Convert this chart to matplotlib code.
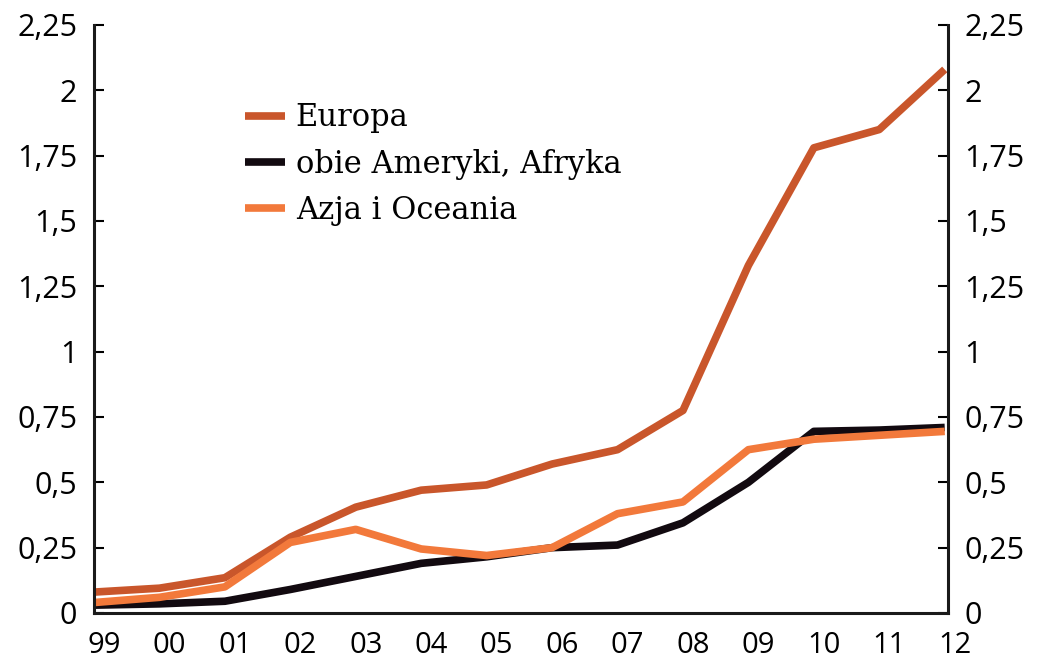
import matplotlib
matplotlib.use('Agg')
import matplotlib.pyplot as plt
import matplotlib.transforms as mtransforms

years = ['99', '00', '01', '02', '03', '04', '05', '06', '07', '08', '09', '10', '11', '12']
europa = [0.08, 0.095, 0.135, 0.29, 0.405, 0.47, 0.49, 0.57, 0.625, 0.775, 1.33, 1.78, 1.85, 2.08]
ameryki = [0.03, 0.035, 0.045, 0.09, 0.14, 0.19, 0.215, 0.25, 0.26, 0.345, 0.5, 0.695, 0.70, 0.71]
azja = [0.04, 0.06, 0.10, 0.27, 0.32, 0.245, 0.22, 0.25, 0.38, 0.425, 0.625, 0.665, 0.68, 0.695]
yticks = [0, 0.25, 0.5, 0.75, 1, 1.25, 1.5, 1.75, 2, 2.25]
ylabels = ['0', '0,25', '0,5', '0,75', '1', '1,25', '1,5', '1,75', '2', '2,25']

fig = plt.figure(figsize=(10.37, 6.64), dpi=100)
ax = fig.add_axes([94 / 1037, 51 / 664, 854 / 1037, 588 / 664])

x = range(len(years))
ax.plot(x, europa, color='#c9562b', lw=5.5, label='Europa', solid_capstyle='butt')
ax.plot(x, ameryki, color='#120a10', lw=5.5, label='obie Ameryki, Afryka', solid_capstyle='butt')
ax.plot(x, azja, color='#f2793b', lw=5.5, label='Azja i Oceania', solid_capstyle='butt')

ax.set_xlim(0, 13.05)
ax.set_ylim(0, 2.25)
ax.set_yticks(yticks)
ax.set_yticklabels(ylabels)
ax.set_xticks(list(x))
ax.set_xticklabels(years)

ax.spines['top'].set_visible(False)
for s in ['left', 'right', 'bottom']:
    ax.spines[s].set_linewidth(2.2)
    ax.spines[s].set_color('#1a1a1a')

ax.tick_params(axis='y', direction='in', length=7, width=1.5, labelsize=22,
               left=True, right=True, labelleft=True, labelright=True, pad=12)
ax.tick_params(axis='x', length=0, labelsize=21, pad=13)

# x labels sit a little to the right of the data points
offset = mtransforms.ScaledTranslation(0.1, 0, fig.dpi_scale_trans)
for lab in ax.get_xticklabels():
    lab.set_transform(lab.get_transform() + offset)
for lab in ax.get_xticklabels() + ax.get_yticklabels():
    lab.set_fontfamily('Open Sans')
for t in ax.yaxis.get_major_ticks():
    t.label2.set_fontfamily('Open Sans')

ax.legend(loc='upper left', bbox_to_anchor=(0.145, 0.915), frameon=False,
          prop={'family': 'DejaVu Serif', 'size': 22},
          handlelength=1.3, handletextpad=0.35, labelspacing=0.5)

fig.savefig('out.png', dpi=100)
